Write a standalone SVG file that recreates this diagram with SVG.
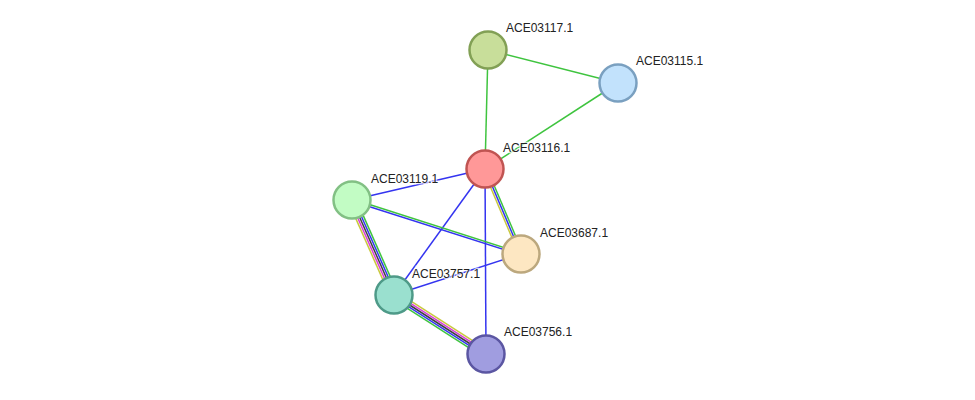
<svg xmlns="http://www.w3.org/2000/svg" width="975" height="400" viewBox="0 0 975 400">
<style>
.e{stroke-width:1.5;fill:none}
.g{stroke:#3fc43f}.b{stroke:#3434f0}.y{stroke:#c8c83c}.m{stroke:#d83cd8}.k{stroke:#404040}
circle{stroke-width:2.5}
text{font-family:"Liberation Sans",Arial,sans-serif;font-size:12px;fill:#222;paint-order:stroke;stroke:#fff;stroke-width:2.5px;stroke-opacity:0.7}
</style>
<rect width="975" height="400" fill="#fff"/>
<g id="edges">
<line class="e g" x1="488" y1="50" x2="618" y2="83"/>
<line class="e g" x1="488" y1="50" x2="485" y2="169"/>
<line class="e g" x1="618" y1="83" x2="485" y2="169"/>
<line class="e b" x1="485" y1="169" x2="352" y2="200"/>
<line class="e y" x1="483.16" y1="169.78" x2="519.16" y2="254.78"/>
<line class="e b" x1="485" y1="169" x2="521" y2="254"/>
<line class="e g" x1="486.84" y1="168.22" x2="522.84" y2="253.22"/>
<line class="e b" x1="485" y1="169" x2="394" y2="295"/>
<line class="e b" x1="485" y1="169" x2="486" y2="354"/>
<line class="e g" x1="352.3" y1="199.05" x2="521.3" y2="253.05"/>
<line class="e b" x1="351.7" y1="200.95" x2="520.7" y2="254.95"/>
<line class="e y" x1="348.34" y1="201.62" x2="390.34" y2="296.62"/>
<line class="e m" x1="350.17" y1="200.81" x2="392.17" y2="295.81"/>
<line class="e k" x1="352" y1="200" x2="394" y2="295"/>
<line class="e b" x1="353.83" y1="199.19" x2="395.83" y2="294.19"/>
<line class="e g" x1="355.66" y1="198.38" x2="397.66" y2="293.38"/>
<line class="e b" x1="394" y1="295" x2="521" y2="254"/>
<line class="e y" x1="396.16" y1="291.63" x2="488.16" y2="350.63"/>
<line class="e m" x1="395.08" y1="293.32" x2="487.08" y2="352.32"/>
<line class="e k" x1="394" y1="295" x2="486" y2="354"/>
<line class="e b" x1="392.92" y1="296.68" x2="484.92" y2="355.68"/>
<line class="e g" x1="391.84" y1="298.37" x2="483.84" y2="357.37"/>
</g>
<g id="ACE03117.1"><circle cx="488" cy="50" r="18.5" fill="#c8de9a" stroke="#82a055"/><text x="506" y="32">ACE03117.1</text></g>
<g id="ACE03115.1"><circle cx="618" cy="83" r="18.5" fill="#c2e2fc" stroke="#7aa0c0"/><text x="636" y="65">ACE03115.1</text></g>
<g id="ACE03116.1"><circle cx="485" cy="169" r="18.5" fill="#ff9898" stroke="#c05452"/><text x="503" y="152">ACE03116.1</text></g>
<g id="ACE03119.1"><circle cx="352" cy="200" r="18.5" fill="#c2fcc4" stroke="#82c084"/><text x="371" y="183">ACE03119.1</text></g>
<g id="ACE03687.1"><circle cx="521" cy="254" r="18.5" fill="#fde7c2" stroke="#bca87e"/><text x="540" y="237">ACE03687.1</text></g>
<g id="ACE03757.1"><circle cx="394" cy="295" r="18.5" fill="#9ae0cf" stroke="#4e9a88"/><text x="412" y="278">ACE03757.1</text></g>
<g id="ACE03756.1"><circle cx="486" cy="354" r="18.5" fill="#a09de0" stroke="#5b56a2"/><text x="504" y="336">ACE03756.1</text></g>
</svg>
